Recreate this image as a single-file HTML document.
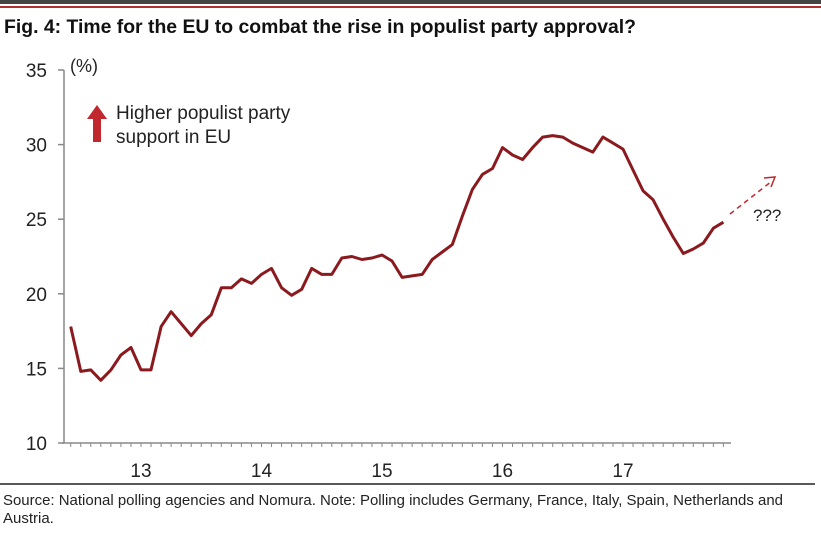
<!DOCTYPE html>
<html><head><meta charset="utf-8"><style>
body{margin:0;background:#fff;width:821px;height:529px;overflow:hidden;font-family:"Liberation Sans",sans-serif;}
</style></head><body>
<svg width="821" height="529" xmlns="http://www.w3.org/2000/svg" id="svg" font-family="Liberation Sans, sans-serif">
<rect x="0" y="0" width="821" height="4" fill="#444"/>
<rect x="0" y="6" width="821" height="2" fill="#b23030"/>
<text x="4" y="33" font-size="19" font-weight="bold" fill="#111" textLength="632" lengthAdjust="spacingAndGlyphs">Fig. 4: Time for the EU to combat the rise in populist party approval?</text>
<text x="70" y="72" font-size="18" fill="#222">(%)</text>
<g id="axes"></g>
<g id="marks"></g>
<polygon points="87,119 97,105 107,119" fill="#c0282d"/>
<rect x="93" y="118" width="8" height="24" fill="#c0282d"/>
<text x="116" y="119" font-size="19" fill="#222">Higher populist party</text>
<text x="116" y="143" font-size="19" fill="#222">support in EU</text>
<line x1="730" y1="214" x2="772" y2="181" stroke="#c0282d" stroke-width="1.5" stroke-dasharray="5,4"/>
<polyline points="764,178 775,177 771,187" fill="none" stroke="#c0282d" stroke-width="1.5"/>
<text x="753" y="221" font-size="17" fill="#222">???</text>
<line x1="0" y1="484" x2="815" y2="484" stroke="#222" stroke-width="1.5"/>
<text x="3" y="505" font-size="15" fill="#222" textLength="780" lengthAdjust="spacingAndGlyphs">Source: National polling agencies and Nomura. Note: Polling includes Germany, France, Italy, Spain, Netherlands and</text>
<text x="3" y="523" font-size="15" fill="#222">Austria.</text>
</svg>
<script>
const yTicks=[10,15,20,25,30,35];
const xLabels=["13","14","15","16","17"];
const xLabelYears=[2013,2014,2015,2016,2017];
const startYear=2012, startMonth=5;
const values=[17.8,14.8,14.9,14.2,14.9,15.9,16.4,14.9,14.9,17.8,18.8,18.0,17.2,18.0,18.6,20.4,20.4,21.0,20.7,21.3,21.7,20.4,19.9,20.3,21.7,21.3,21.3,22.4,22.5,22.3,22.4,22.6,22.2,21.1,21.2,21.3,22.3,22.8,23.3,25.2,27.0,28.0,28.4,29.8,29.3,29.0,29.8,30.5,30.6,30.5,30.1,29.8,29.5,30.5,30.1,29.7,28.3,26.9,26.3,25.0,23.8,22.7,23.0,23.4,24.4,24.8];
const NS="http://www.w3.org/2000/svg";
const yS=v=>443-(v-10)*(373/25);
const xS=t=>141+(t-2013)*120.5;
const axes=document.getElementById('axes'), marks=document.getElementById('marks');
function mk(tag,attrs,parent){const e=document.createElementNS(NS,tag);for(const k in attrs)e.setAttribute(k,attrs[k]);parent.appendChild(e);return e;}
let e=mk('line',{x1:64,y1:70,x2:64,y2:443,stroke:'#888','stroke-width':1.5},axes);


e=mk('line',{x1:62,y1:443,x2:731,y2:443,stroke:'#888','stroke-width':1.5},axes);


yTicks.forEach(v=>{
  const t=mk('line',{x1:58,y1:yS(v),x2:64,y2:yS(v),stroke:'#888','stroke-width':1.5},axes);
  
  
  const l=mk('text',{x:47,y:yS(v)+7,'font-size':19,fill:'#222','text-anchor':'end'},axes);
  l.textContent=v;
  
  
});
for(let m=0;m<=67;m++){
  const x=xS(2012+(m+5)/12);
  if(x<63||x>731)continue;
  const t=mk('line',{x1:x,y1:443,x2:x,y2:447,stroke:'#888','stroke-width':1},axes);
  
  
}
xLabels.forEach((s,i)=>{
  const l=mk('text',{x:xS(xLabelYears[i]),y:477,'font-size':19,fill:'#222','text-anchor':'middle'},axes);
  l.textContent=s;
  
  
});
const pts=values.map((v,i)=>xS(startYear+(startMonth+i)/12).toFixed(1)+','+yS(v).toFixed(1)).join(' ');
const pl=mk('polyline',{points:pts,fill:'none',stroke:'#8b1a1f','stroke-width':3,'stroke-linejoin':'round'},marks);


</script>
</body></html>
